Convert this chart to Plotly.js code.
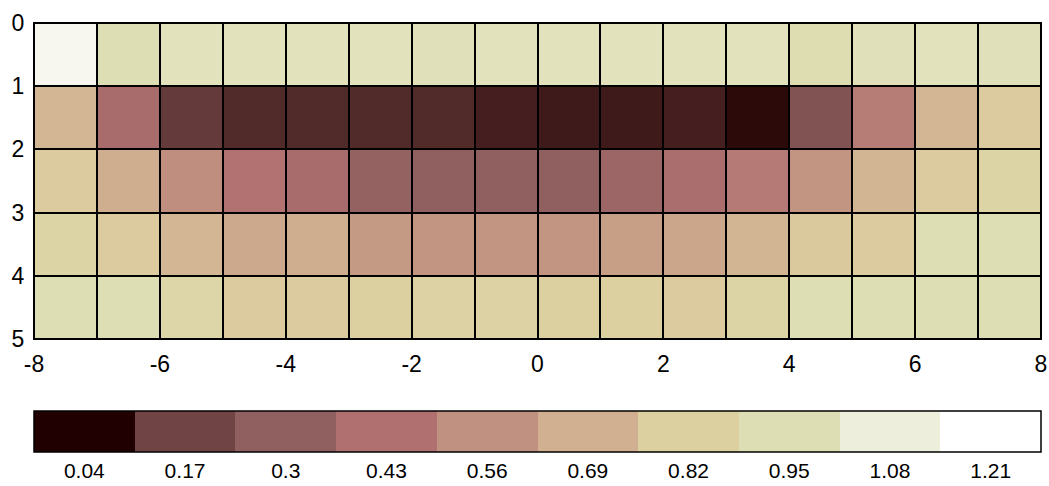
<!DOCTYPE html>
<html>
<head>
<meta charset="utf-8">
<script src="https://cdn.plot.ly/plotly-3.0.1.min.js"></script>
<style>html,body{margin:0;padding:0;background:#fff;}#chart{width:1049px;height:486px;}</style>
</head>
<body>
<div id="chart"></div>
<script>
// Column edges (x) and row edges (y)
const xEdges = [-8,-7,-6,-5,-4,-3,-2,-1,0,1,2,3,4,5,6,7,8];
const yEdges = [0,1,2,3,4,5];

// Cell values, one row per y band (top row first)
const row0 = [1.15,0.95,0.98,0.98,0.98,0.98,0.97,0.98,0.98,0.98,0.98,0.98,0.93,0.97,0.98,0.97];
const row1 = [0.72,0.40,0.15,0.12,0.12,0.12,0.12,0.10,0.09,0.09,0.10,0.06,0.24,0.48,0.72,0.80];
const row2 = [0.80,0.68,0.55,0.44,0.40,0.32,0.30,0.30,0.30,0.35,0.41,0.47,0.58,0.71,0.80,0.86];
const row3 = [0.86,0.80,0.72,0.66,0.68,0.60,0.58,0.58,0.58,0.62,0.65,0.71,0.79,0.80,0.95,0.95];
const row4 = [0.95,0.95,0.88,0.80,0.80,0.82,0.84,0.84,0.82,0.82,0.80,0.86,0.95,0.95,0.95,0.95];

// Colour bands and their labels
const bandValues = [0.04,0.17,0.3,0.43,0.56,0.69,0.82,0.95,1.08,1.21];
const bandLabels = ["0.04","0.17","0.3","0.43","0.56","0.69","0.82","0.95","1.08","1.21"];
const bandColors = ["#200000","#704444","#906060","#b07070","#c09080","#d0b090","#ddd0a0","#dedeb4","#eeeedc","#ffffff"];

const xTicks = [-8,-6,-4,-2,0,2,4,6,8];
const xTickLabels = ["-8","-6","-4","-2","0","2","4","6","8"];
const yTicks = [0,1,2,3,4,5];

const z = [row0,row1,row2,row3,row4];
const step = bandValues[1]-bandValues[0];
const zmin = bandValues[0]-step/2;
const zmax = bandValues[bandValues.length-1]+step/2;
const n = bandColors.length;

// continuous scale (cells) with colours at band centres
const contScale = [[0,bandColors[0]]];
bandColors.forEach((c,i)=>contScale.push([(i+0.5)/n,c]));
contScale.push([1,bandColors[n-1]]);

// stepped scale (colorbar)
const stepScale = [];
bandColors.forEach((c,i)=>{stepScale.push([i/n,c]);stepScale.push([(i+1)/n,c]);});

const font = {family:"Liberation Sans, Arial, sans-serif", size:23, color:"#000"};
const cbFont = {family:"Liberation Sans, Arial, sans-serif", size:21, color:"#000"};

const traces = [
  {type:'heatmap', x:xEdges, y:yEdges, z:z, zmin:zmin, zmax:zmax,
   colorscale:contScale, showscale:false, xgap:2, ygap:2, hoverinfo:'skip'},
  {type:'heatmap', x:xEdges, y:yEdges, z:z, zmin:zmin, zmax:zmax,
   colorscale:stepScale, opacity:0, hoverinfo:'skip', showscale:true,
   colorbar:{orientation:'h', x:0.5, xanchor:'center', y:-0.228, yanchor:'top',
     len:1.0, lenmode:'fraction', thickness:41, xpad:0, ypad:0,
     outlinewidth:1.5, outlinecolor:'#000', tickmode:'array',
     tickvals:bandValues, ticktext:bandLabels, ticks:'', tickfont:cbFont}}
];

const layout = {
  width:1049, height:486,
  margin:{l:34, r:8, t:23, b:147, autoexpand:false},
  paper_bgcolor:'#fff', plot_bgcolor:'#000',
  font:font,
  xaxis:{range:[-8,8], tickmode:'array', tickvals:xTicks, ticktext:xTickLabels, ticks:'', showgrid:false, zeroline:false,
    showline:true, linecolor:'#000', linewidth:1, mirror:true, tickfont:font, ticklabelstandoff:4, automargin:false},
  yaxis:{range:[5,0], tickmode:'array', tickvals:yTicks, ticks:'', showgrid:false, zeroline:false,
    showline:true, linecolor:'#000', linewidth:1, mirror:true, tickfont:font, ticklabelstandoff:4, automargin:false},
  showlegend:false
};

Plotly.newPlot('chart', traces, layout, {displayModeBar:false, staticPlot:true});
</script>
</body>
</html>
